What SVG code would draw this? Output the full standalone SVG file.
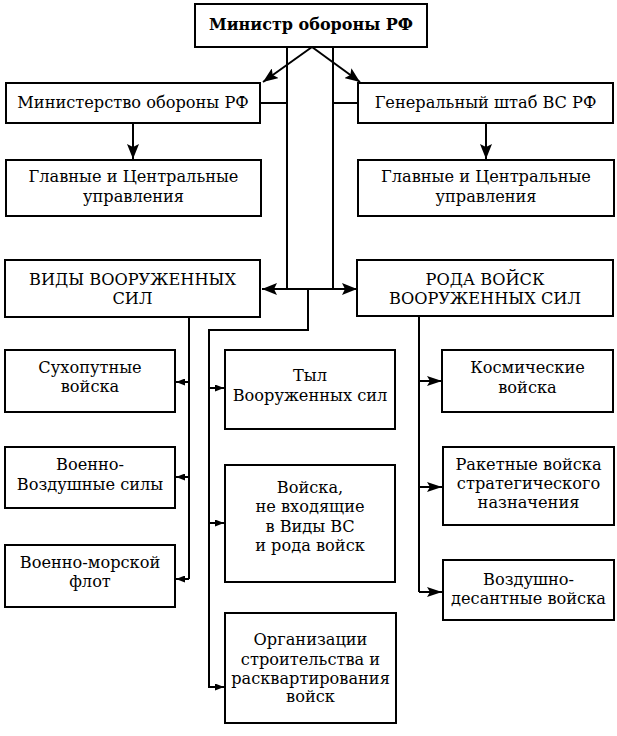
<svg xmlns="http://www.w3.org/2000/svg" width="617" height="736" viewBox="0 0 617 736">
<defs>
<style>
.box{fill:#fff;stroke:#000;stroke-width:2}
.t{font-family:"DejaVu Serif","Liberation Serif",serif;font-size:16.2px;fill:#000;text-anchor:middle}
.b{font-weight:bold;font-size:16px}
.c{fill:none;stroke:#000;stroke-width:2}
</style>
<marker id="big" markerUnits="userSpaceOnUse" markerWidth="16" markerHeight="12" refX="15" refY="6" orient="auto">
<path d="M0,0 L15,6 L0,12 L3,6 z" fill="#000"/>
</marker>
<marker id="mid" markerUnits="userSpaceOnUse" markerWidth="16" markerHeight="10" refX="15" refY="5" orient="auto">
<path d="M0,0 L15,5 L0,10 L3,5 z" fill="#000"/>
</marker>
<marker id="sm" markerUnits="userSpaceOnUse" markerWidth="10" markerHeight="7" refX="9" refY="3.5" orient="auto">
<path d="M0,0 L9,3.5 L0,7 z" fill="#000"/>
</marker>
</defs>
<rect width="617" height="736" fill="#fff"/>

<g id="connectors">
<path class="c" d="M312,47 L263,82" marker-end="url(#big)"/>
<path class="c" d="M312,47 L360,82" marker-end="url(#big)"/>
<path class="c" d="M287,47 V289 M333,47 V289 M287,289 H333"/>
<path class="c" d="M260,103 H287 M333,103 H358"/>
<path class="c" d="M133,123 V159" marker-end="url(#big)"/>
<path class="c" d="M486,123 V159" marker-end="url(#big)"/>
<path class="c" d="M287,289 H262" marker-end="url(#big)"/>
<path class="c" d="M333,289 H357" marker-end="url(#big)"/>
<path class="c" d="M308,289 V330 H209 V688"/>
<path class="c" d="M209,388 H224" marker-end="url(#sm)"/>
<path class="c" d="M209,523 H224" marker-end="url(#sm)"/>
<path class="c" d="M209,687 H224" marker-end="url(#sm)"/>
<path class="c" d="M189,317 V579"/>
<path class="c" d="M189,382 H176" marker-end="url(#sm)"/>
<path class="c" d="M189,477 H176" marker-end="url(#sm)"/>
<path class="c" d="M189,579 H176" marker-end="url(#sm)"/>
<path class="c" d="M419,316 V592"/>
<path class="c" d="M419,381 H442" marker-end="url(#mid)"/>
<path class="c" d="M419,487 H442" marker-end="url(#mid)"/>
<path class="c" d="M419,592 H442" marker-end="url(#mid)"/>
</g>

<g id="minister">
<rect class="box" x="195" y="4" width="232" height="43"/>
<text class="t b" x="311" y="30">Министр обороны РФ</text>
</g>
<g id="mo">
<rect class="box" x="6" y="83" width="254" height="40"/>
<text class="t" x="133" y="108">Министерство обороны РФ</text>
</g>
<g id="genshtab">
<rect class="box" x="358" y="83" width="255" height="40"/>
<text class="t" x="485.5" y="108">Генеральный штаб ВС РФ</text>
</g>
<g id="glav-left">
<rect class="box" x="6" y="160" width="255" height="56"/>
<text class="t" x="133.5" y="182">Главные и Центральные</text>
<text class="t" x="133.5" y="202">управления</text>
</g>
<g id="glav-right">
<rect class="box" x="358" y="160" width="256" height="56"/>
<text class="t" x="486" y="182">Главные и Центральные</text>
<text class="t" x="486" y="202">управления</text>
</g>
<g id="vidy">
<rect class="box" x="5" y="260" width="255" height="57"/>
<text class="t" x="132.5" y="285">ВИДЫ ВООРУЖЕННЫХ</text>
<text class="t" x="132.5" y="304">СИЛ</text>
</g>
<g id="roda">
<rect class="box" x="357" y="260" width="256" height="56"/>
<text class="t" x="485" y="285">РОДА ВОЙСК</text>
<text class="t" x="485" y="304">ВООРУЖЕННЫХ СИЛ</text>
</g>
<g id="suhoput">
<rect class="box" x="5" y="350" width="170" height="62"/>
<text class="t" x="90" y="373">Сухопутные</text>
<text class="t" x="90" y="392">войска</text>
</g>
<g id="vvs">
<rect class="box" x="5" y="447" width="170" height="61"/>
<text class="t" x="90" y="470">Военно-</text>
<text class="t" x="90" y="490">Воздушные силы</text>
</g>
<g id="vmf">
<rect class="box" x="5" y="545" width="170" height="62"/>
<text class="t" x="90" y="568">Военно-морской</text>
<text class="t" x="90" y="587">флот</text>
</g>
<g id="tyl">
<rect class="box" x="225" y="350" width="170" height="79"/>
<text class="t" x="310" y="381">Тыл</text>
<text class="t" x="310" y="401">Вооруженных сил</text>
</g>
<g id="vojska-ne">
<rect class="box" x="225" y="465" width="170" height="117"/>
<text class="t" x="310" y="493">Войска,</text>
<text class="t" x="310" y="512">не входящие</text>
<text class="t" x="310" y="532">в Виды ВС</text>
<text class="t" x="310" y="551">и рода войск</text>
</g>
<g id="org">
<rect class="box" x="225" y="613" width="171" height="110"/>
<text class="t" x="310.5" y="645">Организации</text>
<text class="t" x="310.5" y="665">строительства и</text>
<text class="t" x="310.5" y="684">расквартирования</text>
<text class="t" x="310.5" y="702">войск</text>
</g>
<g id="kosm">
<rect class="box" x="442" y="350" width="171" height="62"/>
<text class="t" x="527.5" y="373">Космические</text>
<text class="t" x="527.5" y="393">войска</text>
</g>
<g id="rvsn">
<rect class="box" x="443" y="447" width="171" height="78"/>
<text class="t" x="528.5" y="470">Ракетные войска</text>
<text class="t" x="528.5" y="489">стратегического</text>
<text class="t" x="528.5" y="508">назначения</text>
</g>
<g id="vdv">
<rect class="box" x="443" y="560" width="171" height="60"/>
<text class="t" x="528.5" y="585">Воздушно-</text>
<text class="t" x="528.5" y="604">десантные войска</text>
</g>
</svg>
